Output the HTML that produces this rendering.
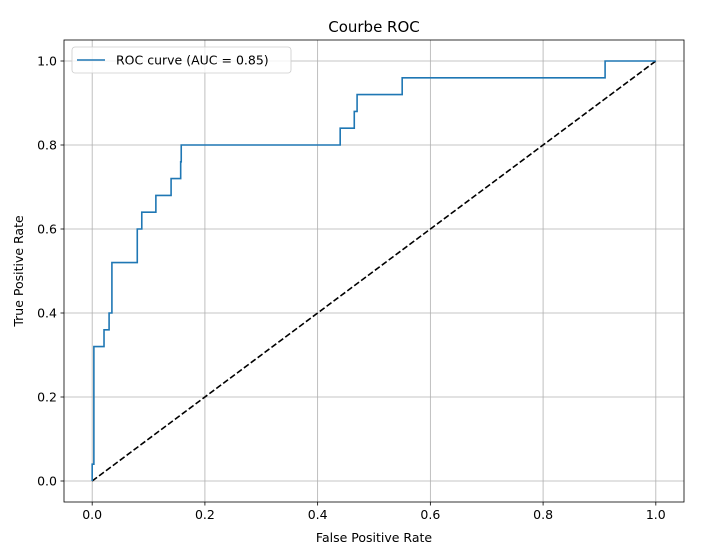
<!DOCTYPE html>
<html><head><meta charset="utf-8"><style>
body{margin:0;background:#fff;}
svg{display:block;font-family:"DejaVu Sans","Liberation Sans",sans-serif;}
</style></head><body>
<svg id="c" width="714" height="547" viewBox="0 0 714 547" xmlns="http://www.w3.org/2000/svg"></svg>
<script>
const fprValues=[0,0,0.003,0.003,0.005,0.021,0.03,0.035,0.08,0.088,0.113,0.14,0.157,0.158,0.44,0.465,0.47,0.55,0.91,1.0];
const tprValues=[0,0.04,0.08,0.32,0.32,0.36,0.40,0.52,0.60,0.64,0.68,0.72,0.76,0.80,0.84,0.88,0.92,0.96,1.0,1.0];
const xTicks=[0,0.2,0.4,0.6,0.8,1.0];
const yTicks=[0,0.2,0.4,0.6,0.8,1.0];
const xTickLabels=["0.0","0.2","0.4","0.6","0.8","1.0"];
const yTickLabels=["0.0","0.2","0.4","0.6","0.8","1.0"];
const aucLabel="ROC curve (AUC = 0.85)";

const L=64,R=684,T=40,B=502;
const sx=v=>L+(v+0.05)/1.1*(R-L);
const sy=v=>B-(v+0.05)/1.1*(B-T);
const svg=document.getElementById('c');
const NS='http://www.w3.org/2000/svg';
function mk(tag,attrs,parent){const e=document.createElementNS(NS,tag);for(const k in attrs)e.setAttribute(k,attrs[k]);(parent||svg).appendChild(e);return e;}

mk('rect',{x:0,y:0,width:714,height:547,fill:'#fff'});
xTicks.forEach((v,i)=>{
  const g=mk('line',{x1:sx(v),x2:sx(v),y1:T,y2:B,stroke:'#b0b0b0','stroke-width':0.8});
  
  
  mk('line',{x1:sx(v),x2:sx(v),y1:B,y2:B+3.5,stroke:'#000','stroke-width':0.8});
  const t=mk('text',{x:sx(v),y:B+17,'text-anchor':'middle','font-size':12.5,fill:'#000'});
  t.textContent=xTickLabels[i];
  
  
});
yTicks.forEach((v,i)=>{
  const g=mk('line',{x1:L,x2:R,y1:sy(v),y2:sy(v),stroke:'#b0b0b0','stroke-width':0.8});
  
  
  mk('line',{x1:L-3.5,x2:L,y1:sy(v),y2:sy(v),stroke:'#000','stroke-width':0.8});
  const t=mk('text',{x:L-7,y:sy(v)+4.5,'text-anchor':'end','font-size':12.5,fill:'#000'});
  t.textContent=yTickLabels[i];
  
  
});
const diag=mk('line',{x1:sx(0),y1:sy(0),x2:sx(1),y2:sy(1),stroke:'#000','stroke-width':1.6,'stroke-dasharray':'6,2.6'});


let d='';
for(let i=0;i<fprValues.length;i++){
  if(i===0)d+='M'+sx(fprValues[0])+','+sy(tprValues[0]);
  else d+=' L'+sx(fprValues[i])+','+sy(tprValues[i-1])+' L'+sx(fprValues[i])+','+sy(tprValues[i]);
}
const roc=mk('path',{d:d,fill:'none',stroke:'#1f77b4','stroke-width':1.6});


mk('rect',{x:L,y:T,width:R-L,height:B-T,fill:'none',stroke:'#000','stroke-width':0.8});

const lg=mk('g',{});


mk('rect',{x:72,y:47,width:219,height:26,rx:3,fill:'#fff','fill-opacity':0.8,stroke:'#ccc','stroke-width':0.8},lg);
mk('line',{x1:77,x2:105,y1:60,y2:60,stroke:'#1f77b4','stroke-width':1.6},lg);
const lt=mk('text',{x:116,y:64.5,'font-size':12.5,fill:'#000'},lg);
lt.textContent=aucLabel;



const title=mk('text',{x:(L+R)/2,y:32,'text-anchor':'middle','font-size':15,fill:'#000'});
title.textContent='Courbe ROC';


const xl=mk('text',{x:(L+R)/2,y:542,'text-anchor':'middle','font-size':12.5,fill:'#000'});
xl.textContent='False Positive Rate';


const yl=mk('text',{x:0,y:0,'text-anchor':'middle','font-size':12.5,fill:'#000',transform:'translate(23,'+((T+B)/2)+') rotate(-90)'});
yl.textContent='True Positive Rate';


</script>
</body></html>
